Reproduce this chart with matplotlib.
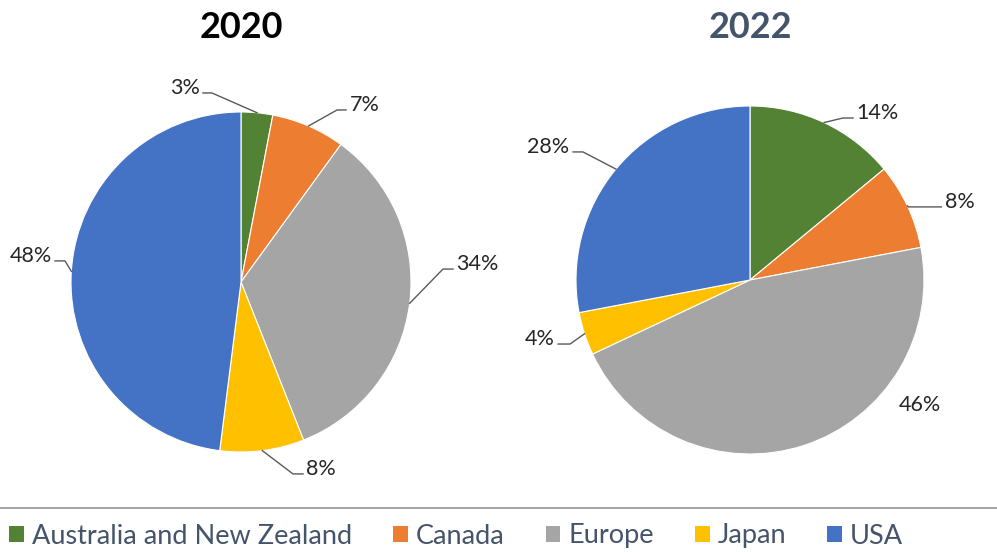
import matplotlib.pyplot as plt
from matplotlib.patches import Patch
from matplotlib.lines import Line2D
import numpy as np

plt.rcParams['font.family'] = ['Lato', 'DejaVu Sans']

regions = ['Australia and New Zealand', 'Canada', 'Europe', 'Japan', 'USA']
colors = ['#548235', '#ED7D31', '#A5A5A5', '#FFC000', '#4472C4']
share_2020 = [3, 7, 34, 8, 48]
share_2022 = [14, 8, 46, 4, 28]

# label layout (radius units): elbow point, end of horizontal tick, or None for no leader
labels_2020 = [((-0.171, 1.112), -0.224), ((0.565, 1.012), 0.618), ((1.188, 0.076), 1.247),
               ((0.306, -1.129), 0.365), ((-1.035, 0.124), -1.094)]
labels_2022 = [((0.534, 0.931), 0.592), ((0.91, 0.42), 1.10), ((0.977, -0.718), None),
               ((-1.034, -0.368), -1.103), ((-0.96, 0.736), -1.017)]

W, H = 997, 552
fig = plt.figure(figsize=(W / 100, H / 100), dpi=100)
label_size = 15.5


def draw_pie(cx, cy, r_px, values, layout, title, title_color):
    lim = 1.5
    box = 2 * lim * r_px
    ax = fig.add_axes([(cx - box / 2) / W, (H - cy - box / 2) / H, box / W, box / H])
    ax.set_axis_off()
    wedges, _ = ax.pie(values, colors=colors, startangle=90, counterclock=False, radius=1,
                       wedgeprops=dict(edgecolor='white', linewidth=0.8))
    ax.set_xlim(-lim, lim)
    ax.set_ylim(-lim, lim)
    for w, v, ((ex, ey), hx) in zip(wedges, values, layout):
        mid = np.deg2rad((w.theta1 + w.theta2) / 2)
        px, py = np.cos(mid), np.sin(mid)
        if hx is None:
            ax.text(ex, ey, '{}%'.format(v), ha='center', va='center', fontsize=label_size, color='#262626')
            continue
        ax.plot([px, ex, hx], [py, ey, ey], color='#595959', lw=1, clip_on=False)
        if hx > ex:
            ax.text(hx + 0.02, ey + 0.03, '{}%'.format(v), ha='left', va='center',
                    fontsize=label_size, color='#262626')
        else:
            ax.text(hx - 0.02, ey + 0.03, '{}%'.format(v), ha='right', va='center',
                    fontsize=label_size, color='#262626')
    fig.text(cx / W, 1 - 27 / H, title, ha='center', va='center', fontsize=26,
             fontweight='bold', color=title_color)


draw_pie(241, 282, 170, share_2020, labels_2020, '2020', 'black')
draw_pie(750, 280, 174, share_2022, labels_2022, '2022', '#44546A')

fig.add_artist(Line2D([0, 1], [1 - 508 / H, 1 - 508 / H], transform=fig.transFigure,
                      color='#A6A6A6', lw=1.5))

handles = [Patch(facecolor=c, edgecolor='none') for c in colors]
fig.legend(handles, regions, loc='center left', bbox_to_anchor=(0.004, 1 - 536 / H), ncol=5,
           frameon=False, fontsize=19.5, handlelength=0.55, handleheight=0.55, handletextpad=0.3,
           columnspacing=1.5, labelcolor='#44546A', borderaxespad=0, borderpad=0.2)

plt.savefig('out.png', dpi=100)
